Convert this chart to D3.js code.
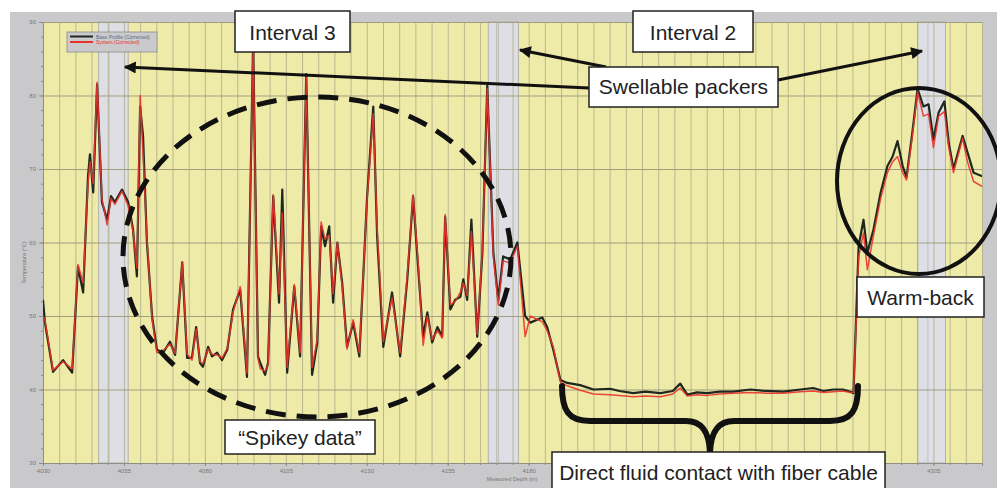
<!DOCTYPE html>
<html lang="en">
<head>
<meta charset="UTF-8">
<title>Temperature profile - measured depth</title>
<script src="https://d3js.org/d3.v7.min.js"></script>
<style>
    body { margin: 0; background: #fff; }
    svg { display: block; font-family: "Liberation Sans", Arial, sans-serif; }
</style>
</head>
<body>
<div id="chart"></div>
<script>
    // depth (m) and the two temperature traces (degC)
    const depths = [4030.0, 4030.6, 4033.1, 4036.2, 4039.0, 4040.8, 4042.4, 4043.9, 4044.5, 4045.5,
        4046.7, 4048.2, 4049.8, 4051.0, 4052.2, 4054.4, 4056.3, 4057.8, 4059.0, 4060.0,
        4060.9, 4062.1, 4063.7, 4065.2, 4067.1, 4069.2, 4070.8, 4073.0, 4074.5, 4076.0,
        4077.3, 4078.5, 4079.4, 4081.0, 4082.2, 4083.8, 4085.3, 4086.9, 4088.7, 4090.9,
        4093.0, 4094.9, 4096.4, 4097.1, 4098.6, 4099.5, 4101.1, 4102.9, 4103.9, 4105.4,
        4107.6, 4109.4, 4111.3, 4113.1, 4114.7, 4115.9, 4117.1, 4118.4, 4119.6, 4120.9,
        4122.4, 4123.9, 4125.8, 4127.7, 4130.1, 4132.0, 4133.2, 4135.1, 4137.8, 4140.3,
        4142.5, 4144.3, 4145.9, 4147.4, 4148.7, 4150.2, 4151.8, 4153.3, 4154.2, 4155.8,
        4157.3, 4158.9, 4159.8, 4161.0, 4162.3, 4164.1, 4165.7, 4167.2, 4169.1, 4170.6,
        4172.1, 4174.3, 4176.5, 4178.9, 4180.5, 4184.2, 4185.7, 4187.6, 4189.8, 4191.9,
        4195.9, 4200.0, 4205.2, 4208.0, 4212.3, 4216.0, 4220.7, 4224.5, 4226.8, 4229.0,
        4232.0, 4235.2, 4239.0, 4243.2, 4248.5, 4253.0, 4258.7, 4263.9, 4267.9, 4271.0,
        4274.1, 4277.0, 4279.4, 4280.3, 4281.9, 4283.4, 4284.6, 4286.5, 4288.7, 4290.8,
        4292.4, 4293.9, 4295.5, 4296.7, 4298.5, 4300.1, 4301.9, 4303.5, 4305.0, 4306.6,
        4308.4, 4309.7, 4311.2, 4314.0, 4315.5, 4317.4, 4320.2];

    const baseTemp = [52.2, 49.1, 42.4, 44.0, 42.3, 56.7, 53.2, 69.0, 72.0, 66.8,
        81.5, 65.5, 63.1, 66.3, 65.5, 67.2, 65.5, 61.8, 55.4, 78.5,
        74.5, 60.0, 49.9, 45.4, 45.0, 46.5, 44.7, 57.3, 44.3, 44.3,
        48.5, 43.6, 43.1, 45.8, 44.5, 45.0, 44.0, 45.4, 50.9, 53.6,
        41.7, 87.5, 44.5, 43.6, 42.0, 43.6, 66.3, 51.8, 67.2, 42.3,
        54.0, 44.5, 82.9, 42.0, 46.4, 62.2, 59.5, 62.2, 51.8, 60.0,
        54.5, 45.8, 49.1, 44.5, 66.3, 78.5, 60.8, 45.8, 53.2, 44.5,
        55.0, 66.3, 56.3, 47.2, 50.5, 46.4, 48.5, 47.2, 63.5, 50.9,
        52.2, 52.6, 55.0, 52.2, 63.1, 47.2, 58.6, 81.3, 58.6, 52.2,
        58.1, 57.7, 60.0, 50.0, 49.1, 49.8, 48.5, 45.4, 41.3, 40.9,
        40.6, 40.0, 40.1, 39.8, 39.5, 39.7, 39.5, 39.8, 40.8, 39.3,
        39.6, 39.5, 39.7, 39.7, 40.0, 39.8, 39.7, 40.0, 40.2, 39.8,
        40.0, 40.0, 39.7, 39.5, 59.5, 63.1, 58.6, 61.8, 66.8, 70.4,
        71.7, 73.8, 70.4, 68.9, 75.0, 80.9, 78.5, 78.8, 74.0, 77.7,
        79.2, 73.6, 70.0, 74.5, 72.3, 69.5, 69.0];

    const systemTemp = [50.0, 49.5, 42.6, 43.8, 42.8, 57.0, 54.5, 68.0, 71.0, 68.0,
        81.8, 66.0, 62.4, 66.0, 65.2, 67.0, 65.0, 61.5, 56.5, 80.0,
        72.0, 60.5, 49.5, 45.0, 45.3, 46.2, 44.9, 57.3, 44.8, 44.0,
        48.2, 43.8, 43.5, 45.5, 44.8, 44.7, 44.3, 45.6, 50.5, 54.0,
        42.2, 87.0, 44.2, 42.8, 42.5, 43.3, 66.5, 53.0, 64.0, 43.0,
        54.3, 45.0, 82.5, 43.0, 46.8, 62.8, 60.5, 61.0, 53.0, 60.0,
        54.0, 45.5, 49.5, 45.0, 66.0, 77.5, 62.0, 46.5, 52.5, 45.0,
        55.5, 66.5, 57.0, 46.0, 50.0, 46.8, 48.0, 47.0, 63.8, 51.5,
        52.0, 53.2, 54.5, 52.8, 61.5, 47.5, 59.0, 81.0, 58.0, 51.5,
        57.5, 57.2, 59.5, 47.2, 50.0, 49.2, 48.0, 45.8, 41.0, 40.5,
        39.9, 39.4, 39.3, 39.2, 39.0, 39.1, 39.0, 39.4, 40.2, 39.1,
        39.3, 39.2, 39.4, 39.5, 39.6, 39.5, 39.5, 39.7, 39.8, 39.6,
        39.7, 39.8, 39.6, 39.6, 58.0, 61.3, 56.3, 61.0, 66.0, 69.5,
        71.0, 71.7, 69.5, 68.5, 74.5, 80.5, 77.2, 77.5, 72.9, 77.2,
        77.8, 73.0, 69.5, 74.2, 71.0, 68.3, 67.6];

    const seriesNames = ["Base Profile (Corrected)", "System (Corrected)"];
    const seriesColors = ["#1e281e", "#e8332b"];

    // swellable packer intervals (m)
    const packerTop = [4047.2, 4167.5, 4300.1];
    const packerBottom = [4056.3, 4176.8, 4308.7];

    const xTicks = [4030, 4055, 4080, 4105, 4130, 4155, 4180, 4205, 4230, 4255, 4280, 4305];
    // labels under the "Direct fluid contact" box are not visible in the original
    const xTickLabels = [4030, 4055, 4080, 4105, 4130, 4155, 4180, 4305];
    const yTicks = [30, 40, 50, 60, 70, 80, 90];

    const width = 997, height = 488;
    const margin = { top: 22, right: 15, bottom: 25, left: 43 };
    const plotW = width - margin.left - margin.right;
    const plotH = height - margin.top - margin.bottom;

    const svg = d3.select("#chart").append("svg")
        .attr("width", width)
        .attr("height", height);

    // grey frame of the original software window
    svg.append("rect")
        .attr("x", 10).attr("y", 12)
        .attr("width", width - 10).attr("height", height - 12)
        .attr("fill", "#c9c9cb");

    const x = d3.scaleLinear().domain([4030, 4320]).range([margin.left, margin.left + plotW]);
    const y = d3.scaleLinear().domain([30, 90]).range([margin.top + plotH, margin.top]);

    svg.append("defs").append("clipPath").attr("id", "plotclip")
        .append("rect")
        .attr("x", margin.left).attr("y", margin.top)
        .attr("width", plotW).attr("height", plotH);

    svg.append("rect")
        .attr("x", margin.left).attr("y", margin.top)
        .attr("width", plotW).attr("height", plotH)
        .attr("fill", "#eeeaa8");

    // packer bands
    const bands = svg.append("g");
    packerTop.forEach(function (d, i) {
        bands.append("rect")
            .attr("x", x(d)).attr("y", margin.top)
            .attr("width", x(packerBottom[i]) - x(d)).attr("height", plotH)
            .attr("fill", "#dedfe4")
            .attr("stroke", "#a4a4ac").attr("stroke-width", 0.8);
        bands.append("line")
            .attr("x1", x(d + 3.2)).attr("x2", x(d + 3.2))
            .attr("y1", margin.top).attr("y2", margin.top + plotH)
            .attr("stroke", "#b8b8c0").attr("stroke-width", 0.8);
    });

    // grid
    const xGrid = d3.axisBottom(x).tickValues(d3.range(4030, 4321, 5)).tickSize(-plotH).tickFormat("");
    svg.append("g")
        .attr("transform", "translate(0," + (margin.top + plotH) + ")")
        .call(xGrid)
        .call(g => g.select(".domain").remove())
        .call(g => g.selectAll("line").attr("stroke", "#aeab86").attr("stroke-width", 0.8));

    const yGrid = d3.axisLeft(y).tickValues(yTicks).tickSize(-plotW).tickFormat("");
    svg.append("g")
        .attr("transform", "translate(" + margin.left + ",0)")
        .call(yGrid)
        .call(g => g.select(".domain").remove())
        .call(g => g.selectAll("line").attr("stroke", "#a19f7f").attr("stroke-width", 1));

    // axes
    const xAxis = d3.axisBottom(x).tickValues(xTicks).tickSize(3).tickPadding(3)
        .tickFormat(d => xTickLabels.includes(d) ? d3.format("d")(d) : null);
    svg.append("g")
        .attr("transform", "translate(0," + (margin.top + plotH) + ")")
        .call(xAxis)
        .call(g => g.select(".domain").attr("stroke", "#8f8f85"))
        .call(g => g.selectAll("line").attr("stroke", "#8f8f85"))
        .call(g => g.selectAll("text").filter(function () { return this.textContent === ""; }).remove())
        .call(g => g.selectAll("text").attr("fill", "#777").attr("font-size", 6));

    svg.append("g")
        .attr("transform", "translate(0," + (margin.top + plotH) + ")")
        .call(d3.axisBottom(x).tickValues(d3.range(4030, 4321, 5)).tickSize(2).tickFormat(""))
        .call(g => g.select(".domain").remove())
        .call(g => g.selectAll("line").attr("stroke", "#8f8f85"));

    const yAxis = d3.axisLeft(y).tickValues(yTicks).tickSize(4).tickPadding(3);
    svg.append("g")
        .attr("transform", "translate(" + margin.left + ",0)")
        .call(yAxis)
        .call(g => g.select(".domain").attr("stroke", "#8f8f85"))
        .call(g => g.selectAll("line").attr("stroke", "#8f8f85"))
        .call(g => g.selectAll("text").attr("fill", "#777").attr("font-size", 6));

    svg.append("g")
        .attr("transform", "translate(" + margin.left + ",0)")
        .call(d3.axisLeft(y).tickValues(d3.range(30, 91, 2)).tickSize(2).tickFormat(""))
        .call(g => g.select(".domain").remove())
        .call(g => g.selectAll("line").attr("stroke", "#8f8f85"));

    svg.append("text")
        .attr("x", 512).attr("y", 481)
        .attr("text-anchor", "middle")
        .attr("font-size", 5.5).attr("fill", "#777")
        .text("Measured Depth (m)");

    svg.append("text")
        .attr("transform", "translate(26," + (margin.top + plotH / 2 + 20) + ") rotate(-90)")
        .attr("text-anchor", "middle")
        .attr("font-size", 5.5).attr("fill", "#777")
        .text("Temperature (°C)");

    // traces
    const line = d3.line()
        .x(d => x(d[0]))
        .y(d => y(d[1]));

    const plot = svg.append("g").attr("clip-path", "url(#plotclip)");
    plot.append("path")
        .datum(depths.map((d, i) => [d, baseTemp[i]]))
        .attr("fill", "none")
        .attr("stroke", seriesColors[0])
        .attr("stroke-width", 2.2)
        .attr("stroke-linejoin", "round")
        .attr("d", line);
    plot.append("path")
        .datum(depths.map((d, i) => [d, systemTemp[i]]))
        .attr("fill", "none")
        .attr("stroke", seriesColors[1])
        .attr("stroke-width", 1.5)
        .attr("stroke-linejoin", "round")
        .attr("opacity", 0.9)
        .attr("d", line);

    // legend
    const legend = svg.append("g").attr("transform", "translate(67,32)");
    legend.append("rect")
        .attr("width", 90).attr("height", 20)
        .attr("fill", "#cacacc").attr("stroke", "#8c8c8c").attr("stroke-width", 0.8);
    seriesNames.forEach(function (name, i) {
        legend.append("line")
            .attr("x1", 3).attr("x2", 26)
            .attr("y1", 4.5 + i * 5.5).attr("y2", 4.5 + i * 5.5)
            .attr("stroke", seriesColors[i]).attr("stroke-width", 2);
        legend.append("text")
            .attr("x", 29).attr("y", 6.5 + i * 5.5)
            .attr("font-size", 5).attr("fill", i === 0 ? "#4f6f8f" : "#e8332b")
            .text(name);
    });

    // annotations
    const defs = svg.select("defs");
    defs.append("marker")
        .attr("id", "arrow")
        .attr("viewBox", "0 0 10 10")
        .attr("refX", 9).attr("refY", 5)
        .attr("markerWidth", 5).attr("markerHeight", 4)
        .attr("markerUnits", "strokeWidth")
        .attr("orient", "auto")
        .append("path")
        .attr("d", "M0,0 L10,5 L0,10 Z")
        .attr("fill", "#111");

    const ann = svg.append("g");

    ann.append("ellipse")
        .attr("cx", 317).attr("cy", 257)
        .attr("rx", 194).attr("ry", 160)
        .attr("fill", "none").attr("stroke", "#111")
        .attr("stroke-width", 5)
        .attr("stroke-dasharray", "20,11");

    ann.append("ellipse")
        .attr("cx", 919).attr("cy", 181)
        .attr("rx", 82).attr("ry", 93)
        .attr("fill", "none").attr("stroke", "#111")
        .attr("stroke-width", 4);

    ann.append("path")
        .attr("d", "M562,386 C562,410 568,421 590,421 L686,421 C702,421 709,432 710,452 C711,432 718,421 734,421 L830,421 C852,421 858,410 858,386")
        .attr("fill", "none").attr("stroke", "#111")
        .attr("stroke-width", 6).attr("stroke-linecap", "round");

    const arrows = [[589, 88, 125, 67], [606, 67, 520, 50], [778, 80, 922, 51]];
    arrows.forEach(function (a) {
        ann.append("line")
            .attr("x1", a[0]).attr("y1", a[1])
            .attr("x2", a[2]).attr("y2", a[3])
            .attr("stroke", "#111").attr("stroke-width", 3)
            .attr("marker-end", "url(#arrow)");
    });

    const boxes = [
        { text: "Interval 3", x: 235, y: 11, w: 115, h: 41, base: 40 },
        { text: "Interval 2", x: 633, y: 11, w: 120, h: 41, base: 40 },
        { text: "Swellable packers", x: 589, y: 67, w: 189, h: 40, base: 94 },
        { text: "\u201cSpikey data\u201d", x: 225, y: 420, w: 150, h: 34, base: 445 },
        { text: "Warm-back", x: 857, y: 277, w: 127, h: 40, base: 305 },
        { text: "Direct fluid contact with fiber cable", x: 552, y: 452, w: 333, h: 40, base: 480 }
    ];
    boxes.forEach(function (b) {
        ann.append("rect")
            .attr("x", b.x).attr("y", b.y)
            .attr("width", b.w).attr("height", b.h)
            .attr("fill", "#fff").attr("stroke", "#222").attr("stroke-width", 1.5);
        ann.append("text")
            .attr("x", b.x + b.w / 2).attr("y", b.base)
            .attr("text-anchor", "middle")
            .attr("font-size", 21).attr("fill", "#222")
            .text(b.text);
    });
</script>
</body>
</html>
